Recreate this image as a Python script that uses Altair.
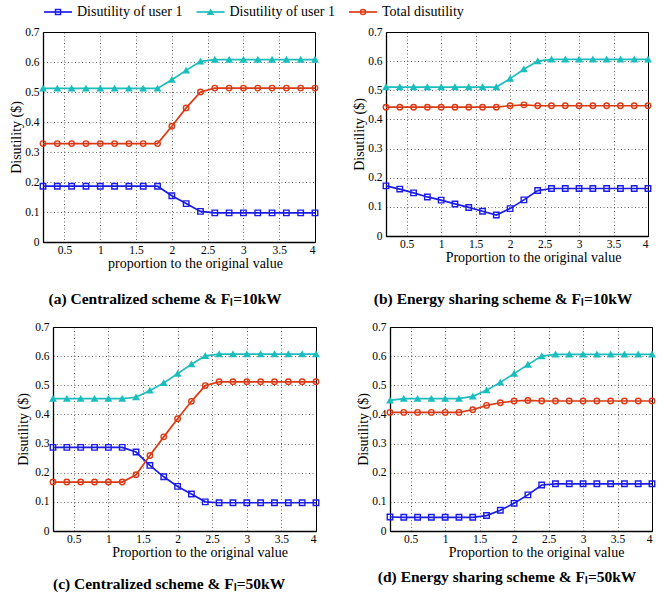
import altair as alt
import pandas as pd

x_vals = [0.2, 0.4, 0.6, 0.8, 1.0, 1.2, 1.4, 1.6, 1.8, 2.0,
          2.2, 2.4, 2.6, 2.8, 3.0, 3.2, 3.4, 3.6, 3.8, 4.0]

# (a) Centralized scheme, Fl = 10 kW
a_u1 = [0.186, 0.186, 0.186, 0.186, 0.186, 0.186, 0.186, 0.186, 0.186, 0.154,
        0.128, 0.102, 0.097, 0.097, 0.097, 0.097, 0.097, 0.097, 0.097, 0.097]
a_u2 = [0.512, 0.512, 0.512, 0.512, 0.512, 0.512, 0.512, 0.512, 0.512, 0.541,
        0.572, 0.602, 0.608, 0.608, 0.608, 0.608, 0.608, 0.608, 0.608, 0.608]
a_tot = [0.328, 0.328, 0.328, 0.328, 0.328, 0.328, 0.328, 0.328, 0.328, 0.386,
         0.447, 0.500, 0.513, 0.513, 0.513, 0.513, 0.513, 0.513, 0.513, 0.513]

# (b) Energy sharing scheme, Fl = 10 kW
b_u1 = [0.172, 0.161, 0.148, 0.134, 0.123, 0.110, 0.098, 0.085, 0.072, 0.094,
        0.124, 0.156, 0.163, 0.163, 0.163, 0.163, 0.163, 0.163, 0.163, 0.163]
b_u2 = [0.511, 0.511, 0.511, 0.511, 0.511, 0.511, 0.511, 0.511, 0.511, 0.540,
        0.572, 0.600, 0.606, 0.606, 0.606, 0.606, 0.606, 0.606, 0.606, 0.606]
b_tot = [0.442, 0.442, 0.442, 0.442, 0.442, 0.442, 0.442, 0.442, 0.442, 0.447,
         0.450, 0.447, 0.447, 0.447, 0.447, 0.447, 0.447, 0.447, 0.447, 0.447]

# (c) Centralized scheme, Fl = 50 kW
c_u1 = [0.287, 0.287, 0.287, 0.287, 0.287, 0.287, 0.271, 0.225, 0.186, 0.153,
        0.127, 0.100, 0.097, 0.097, 0.097, 0.097, 0.097, 0.097, 0.097, 0.097]
c_u2 = [0.454, 0.454, 0.454, 0.454, 0.454, 0.454, 0.459, 0.482, 0.508, 0.540,
        0.572, 0.601, 0.607, 0.607, 0.607, 0.607, 0.607, 0.607, 0.607, 0.607]
c_tot = [0.168, 0.168, 0.168, 0.168, 0.168, 0.168, 0.193, 0.259, 0.323, 0.385,
         0.445, 0.499, 0.512, 0.512, 0.512, 0.512, 0.512, 0.512, 0.512, 0.512]

# (d) Energy sharing scheme, Fl = 50 kW
d_u1 = [0.048, 0.047, 0.047, 0.047, 0.047, 0.047, 0.047, 0.053, 0.071, 0.095,
        0.124, 0.158, 0.162, 0.162, 0.162, 0.162, 0.162, 0.162, 0.162, 0.162]
d_u2 = [0.448, 0.454, 0.454, 0.454, 0.454, 0.454, 0.462, 0.483, 0.510, 0.540,
        0.571, 0.600, 0.606, 0.606, 0.606, 0.606, 0.606, 0.606, 0.606, 0.606]
d_tot = [0.407, 0.407, 0.407, 0.407, 0.407, 0.407, 0.416, 0.431, 0.440, 0.446,
         0.448, 0.446, 0.446, 0.446, 0.446, 0.446, 0.446, 0.446, 0.446, 0.446]

series_keys = ["u1", "u2", "total"]
series_labels = ["Disutility of user 1", "Disutility of user 1", "Total disutility"]
series_colors = ["#1c1ce8", "#1bbdbd", "#dc3a14"]
series_fills = ["rgba(0,0,0,0)", "#1bbdbd", "rgba(0,0,0,0)"]
series_shapes = ["square", "triangle-up", "circle"]
x_ticks = [0.5, 1, 1.5, 2, 2.5, 3, 3.5, 4]
y_ticks = [0, 0.1, 0.2, 0.3, 0.4, 0.5, 0.6, 0.7]

SERIF = "Liberation Serif, Times New Roman, Times, serif"


def make_df(u1, u2, tot):
    rows = []
    for key, vals in zip(series_keys, [u1, u2, tot]):
        for xv, yv in zip(x_vals, vals):
            rows.append({"x": xv, "y": yv, "series": key})
    return pd.DataFrame(rows)


stroke_scale = alt.Scale(domain=series_keys, range=series_colors)
fill_scale = alt.Scale(domain=series_keys, range=series_fills)
shape_scale = alt.Scale(domain=series_keys, range=series_shapes)

NOFRAME = alt.ViewBackground(stroke=None, strokeWidth=0)

# ---- legend row (drawn as marks) ----
leg_df = pd.DataFrame({"series": series_keys, "label": series_labels})
leg_x = alt.X("series:N", scale=alt.Scale(type="point", domain=series_keys, range=[50, 355], padding=0),
              axis=None)
leg_base = alt.Chart(leg_df)
leg_line = leg_base.mark_point(shape="M-1,0H1", size=784, strokeWidth=1.7, opacity=1).encode(
    x=leg_x, y=alt.value(9),
    stroke=alt.Stroke("series:N", scale=stroke_scale, legend=None),
)
leg_mark = leg_base.mark_point(size=26, strokeWidth=1.4, opacity=1).encode(
    x=leg_x, y=alt.value(9),
    stroke=alt.Stroke("series:N", scale=stroke_scale, legend=None),
    fill=alt.Fill("series:N", scale=fill_scale, legend=None),
    shape=alt.Shape("series:N", scale=shape_scale, legend=None),
)
leg_text = leg_base.mark_text(align="left", baseline="middle", dx=19, font=SERIF,
                              fontSize=14, color="black").encode(
    x=leg_x, y=alt.value(8.5), text="label:N",
)
legend_row = alt.layer(leg_line, leg_mark, leg_text).properties(
    width=560, height=16, view=NOFRAME
)


def spacer():
    return alt.Chart(leg_df).mark_point(size=0, opacity=0).encode(
        x=alt.value(0), y=alt.value(0)
    ).properties(width=1, height=1, view=NOFRAME)


def panel(df, w, h, xtitle, caption, cap_offset, ytitle_pad=1, xtitle_shift=15):
    ex = alt.X("x:Q", scale=alt.Scale(domain=[0.2, 4], nice=False, zero=False),
               axis=alt.Axis(values=x_ticks, format="~g", title=xtitle,
                             labelPadding=2, titlePadding=1,
                             titleX=w / 2 + xtitle_shift))
    ey = alt.Y("y:Q", scale=alt.Scale(domain=[0, 0.7], nice=False),
               axis=alt.Axis(values=y_ticks, format="~g", title="Disutility ($)",
                             titlePadding=ytitle_pad))
    line = alt.Chart(df).mark_line(strokeWidth=1.7).encode(
        x=ex, y=ey,
        stroke=alt.Stroke("series:N", scale=stroke_scale, legend=None),
    )
    pts = alt.Chart(df).mark_point(size=30, strokeWidth=1.4, opacity=1).encode(
        x=ex, y=ey,
        stroke=alt.Stroke("series:N", scale=stroke_scale, legend=None),
        fill=alt.Fill("series:N", scale=fill_scale, legend=None),
        shape=alt.Shape("series:N", scale=shape_scale, legend=None),
    )
    return alt.layer(line, pts).properties(
        width=w, height=h,
        title=alt.TitleParams(caption, orient="bottom", anchor="middle", frame="bounds",
                              offset=cap_offset, fontSize=15.5, fontWeight="bold",
                              font=SERIF, color="black"),
    )


pa = panel(make_df(a_u1, a_u2, a_tot), 272, 210, "proportion to the original value",
           "(a) Centralized scheme & F\u2097=10kW", 21, xtitle_shift=16)
pb = panel(make_df(b_u1, b_u2, b_tot), 262, 204, "Proportion to the original value",
           "(b) Energy sharing scheme & F\u2097=10kW", 27, xtitle_shift=16)
pc = panel(make_df(c_u1, c_u2, c_tot), 263, 204, "Proportion to the original value",
           "(c) Centralized scheme & F\u2097=50kW", 17, ytitle_pad=4)
pd_ = panel(make_df(d_u1, d_u2, d_tot), 262, 204, "Proportion to the original value",
            "(d) Energy sharing scheme & F\u2097=50kW", 10)

row1 = alt.hconcat(spacer(), alt.hconcat(pa, pb, spacing=30), spacing=0)
row2 = alt.hconcat(spacer(), alt.hconcat(pc, pd_, spacing=33), spacing=7)

chart = alt.vconcat(
    legend_row,
    alt.vconcat(row1, row2, spacing=12),
    spacing=6,
).properties(
    padding={"left": 8, "top": 3, "right": 2, "bottom": 2},
).configure_view(
    stroke="black", strokeWidth=1
).configure_axis(
    labelFont=SERIF, labelFontSize=11.5, labelColor="black",
    titleFont=SERIF, titleFontSize=14, titleFontWeight="normal", titleColor="black",
    domainColor="black", domainWidth=1.3,
    ticks=False, labelPadding=4, titlePadding=2,
    grid=True, gridColor="black", gridOpacity=0.6, gridDash=[1, 2.5], gridWidth=1,
)

chart.save("out.html", embed_options={"renderer": "svg", "actions": False})
